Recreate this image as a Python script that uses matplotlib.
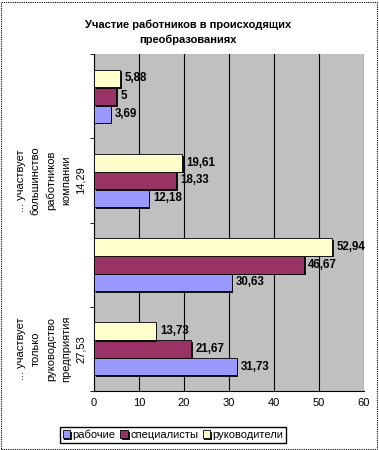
import numpy as np
import matplotlib
matplotlib.use("Agg")
import matplotlib.pyplot as plt
from matplotlib.patches import Rectangle
import matplotlib.patheffects as pe

plt.rcParams['font.family'] = ['Liberation Sans', 'DejaVu Sans']

title = "Участие работников в происходящих\nпреобразованиях"
categories = ["... участвует\nтолько\nруководство\nпредприятия\n27,53",
              "",
              "... участвует\nбольшинство\nработников\nкомпании\n14,29",
              ""]
series_names = ["рабочие", "специалисты", "руководители"]
workers = [31.73, 30.63, 12.18, 3.69]
specialists = [21.67, 46.67, 18.33, 5.0]
managers = [13.73, 52.94, 19.61, 5.88]
colors = ["#9999ff", "#993366", "#ffffcc"]
xticks = [0, 10, 20, 30, 40, 50, 60]

fig = plt.figure(figsize=(3.79, 4.5), dpi=100)
ax = fig.add_axes([0.248, 0.131, 0.712, 0.749])
ax.set_facecolor("#c0c0c0")

y = np.arange(len(categories))
h = 0.21
shadow = [pe.SimplePatchShadow(offset=(1.2, -1.2), shadow_rgbFace="black", alpha=0.9), pe.Normal()]
for i, (vals, c, name) in enumerate(zip([workers, specialists, managers], colors, series_names)):
    pos = y + (i - 1) * h
    bars = ax.barh(pos, vals, height=h, color=c, edgecolor="black", linewidth=0.6,
                   label=name, zorder=3)
    for b in bars:
        b.set_path_effects(shadow)
    for p, v in zip(pos, vals):
        txt = f"{v:g}".replace(".", ",")
        ax.text(v + 0.9, p, txt, va="center", ha="left", fontsize=8.3,
                fontweight="bold", zorder=4)

ax.set_xlim(0, 60)
ax.set_ylim(-0.5, len(categories) - 0.5)
ax.set_xticks(xticks)
ax.set_xticklabels([str(t) for t in xticks], fontsize=8)
ax.tick_params(axis="x", length=0, pad=5)
ax.set_yticks(y)
ax.set_yticklabels(categories, rotation=90, fontsize=8, va="center",
                   ha="right", multialignment="center", linespacing=1.6)
ax.tick_params(axis="y", which="major", length=0, pad=6)
ax.set_yticks(np.arange(-0.5, len(categories)), minor=True)
ax.tick_params(axis="y", which="minor", length=3, direction="out")
ax.xaxis.grid(True, color="black", linewidth=0.8, zorder=1)
ax.set_axisbelow(True)
for s in ["top", "right"]:
    ax.spines[s].set_visible(False)
ax.spines["left"].set_linewidth(0.8)
ax.spines["bottom"].set_linewidth(0.8)

fig.text(0.497, 0.928, title, ha="center", va="center", fontsize=8,
         fontweight="bold", linespacing=1.45)

fig.legend(loc="center", bbox_to_anchor=(173 / 379, 1 - 435 / 450), ncol=3,
           fontsize=8, handlelength=0.7, handleheight=0.7, handletextpad=0.2,
           columnspacing=0.4, fancybox=False, edgecolor="black", borderpad=0.25,
           framealpha=1)

fig.patches.append(Rectangle((0.002, 0.002), 0.994, 0.994, transform=fig.transFigure,
                             fill=False, linestyle=(0, (1, 1)), linewidth=0.8,
                             edgecolor="black"))

fig.savefig("out.png", dpi=100)
